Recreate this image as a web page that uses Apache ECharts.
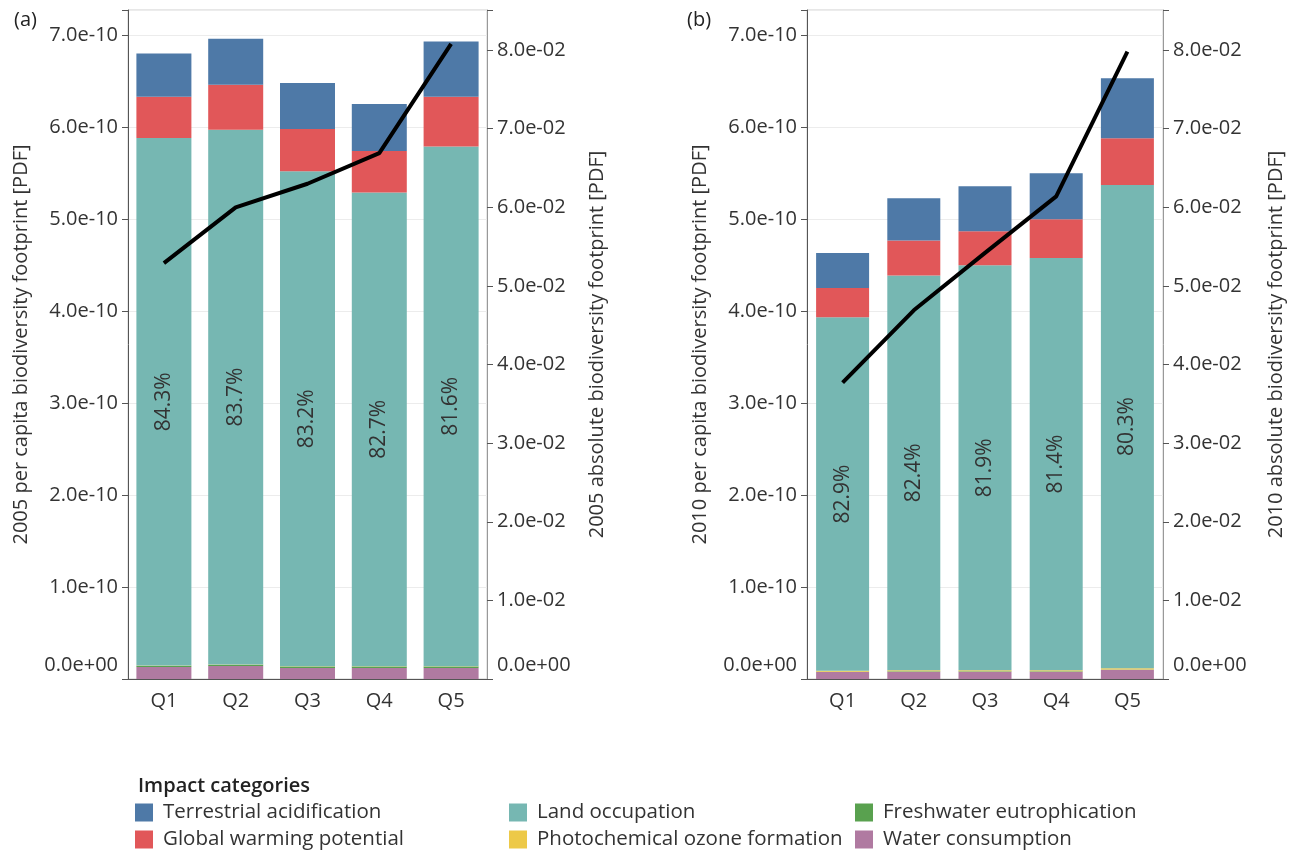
<!DOCTYPE html>
<html>
<head>
<meta charset="utf-8">
<script src="https://cdn.jsdelivr.net/npm/echarts@6/dist/echarts.min.js"></script>
<style>
html,body{margin:0;padding:0;background:#fff;}
#c{width:1293px;height:851px;}
</style>
</head>
<body>
<div id="c"></div>
<script>
const categories = ['Q1','Q2','Q3','Q4','Q5'];
const seriesNames = ['Water consumption','Freshwater eutrophication','Photochemical ozone formation','Land occupation','Global warming potential','Terrestrial acidification'];
const seriesColors = ['#b07aa1','#59a14f','#edc948','#76b7b2','#e15759','#4e79a7'];

// 2005 per capita footprint by impact category [PDF]
const water05 = [0.13e-10, 0.14e-10, 0.12e-10, 0.12e-10, 0.12e-10];
const fresh05 = [0.015e-10, 0.015e-10, 0.015e-10, 0.015e-10, 0.015e-10];
const photo05 = [0.003e-10, 0.003e-10, 0.003e-10, 0.003e-10, 0.003e-10];
const land05  = [5.73e-10, 5.81e-10, 5.38e-10, 5.15e-10, 5.65e-10];
const gwp05   = [0.45e-10, 0.49e-10, 0.46e-10, 0.45e-10, 0.54e-10];
const ta05    = [0.47e-10, 0.50e-10, 0.50e-10, 0.51e-10, 0.60e-10];
const pct05   = ['84.3%','83.7%','83.2%','82.7%','81.6%'];
const abs05   = [5.29e-2, 6.00e-2, 6.30e-2, 6.69e-2, 8.08e-2];

// 2010 per capita footprint by impact category [PDF]
const water10 = [0.075e-10, 0.08e-10, 0.08e-10, 0.08e-10, 0.10e-10];
const fresh10 = [0.003e-10, 0.003e-10, 0.003e-10, 0.003e-10, 0.003e-10];
const photo10 = [0.012e-10, 0.012e-10, 0.012e-10, 0.012e-10, 0.014e-10];
const land10  = [3.84e-10, 4.29e-10, 4.40e-10, 4.48e-10, 5.25e-10];
const gwp10   = [0.32e-10, 0.38e-10, 0.37e-10, 0.42e-10, 0.51e-10];
const ta10    = [0.38e-10, 0.46e-10, 0.49e-10, 0.50e-10, 0.65e-10];
const pct10   = ['82.9%','82.4%','81.9%','81.4%','80.3%'];
const abs10   = [3.77e-2, 4.69e-2, 5.42e-2, 6.14e-2, 7.98e-2];

const FONT = '"Open Sans", sans-serif';
const TXT = '#333';
const FS = 20;

function expFmt(step) {
  return function (v) {
    const k = v / step;
    if (Math.abs(k - Math.round(k)) > 1e-6) return '';
    let s = v.toExponential(1).replace(/e([+-])(\d)$/, 'e$10$2');
    if (Math.round(k) === 0) return '{z|' + s + '}';
    return s;
  };
}

function yLeft(gridIndex, name) {
  return {
    type: 'value', gridIndex: gridIndex, position: 'left',
    min: 0, max: 7.27e-10, interval: 1e-10,
    name: name, nameLocation: 'middle', nameGap: 97, nameRotate: 90,
    nameTextStyle: {fontFamily: FONT, fontSize: FS, color: TXT},
    axisLine: {show: true, lineStyle: {color: '#555', width: 1}},
    axisTick: {show: true, length: 6, lineStyle: {color: '#555'}},
    axisLabel: {fontFamily: FONT, fontSize: FS, color: TXT, margin: 10, formatter: expFmt(1e-10),
      rich: {z: {padding: [0, 0, 28, 0], fontFamily: FONT, fontSize: FS, color: TXT}}},
    splitLine: {show: true, lineStyle: {color: '#ececec', width: 1}}
  };
}
function yRight(gridIndex, name, gap) {
  return {
    type: 'value', gridIndex: gridIndex, position: 'right',
    min: 0, max: 8.51e-2, interval: 1e-2,
    name: name, nameLocation: 'middle', nameGap: gap, nameRotate: 90,
    nameTextStyle: {fontFamily: FONT, fontSize: FS, color: TXT},
    axisLine: {show: true, lineStyle: {color: '#999', width: 1}},
    axisTick: {show: true, length: 6, lineStyle: {color: '#555'}},
    axisLabel: {fontFamily: FONT, fontSize: FS, color: TXT, margin: 10, formatter: expFmt(1e-2),
      rich: {z: {padding: [0, 0, 28, 0], fontFamily: FONT, fontSize: FS, color: TXT}}},
    splitLine: {show: false}
  };
}
function xCat(gridIndex) {
  return {
    type: 'category', gridIndex: gridIndex, data: categories,
    axisLine: {show: true, lineStyle: {color: '#555', width: 1}},
    axisTick: {show: false},
    axisLabel: {fontFamily: FONT, fontSize: FS, color: TXT, margin: 12}
  };
}

function barSeries(panel, dataArrs, pcts, barW) {
  return dataArrs.map(function (arr, i) {
    const s = {
      name: seriesNames[i], type: 'bar', stack: 'st' + panel,
      xAxisIndex: panel, yAxisIndex: panel * 2,
      barWidth: barW, data: arr,
      itemStyle: {color: seriesColors[i]}
    };
    if (seriesNames[i] === 'Land occupation') {
      s.label = {show: true, position: 'inside', rotate: 90,
        fontFamily: FONT, fontSize: 21, color: TXT,
        formatter: function (p) { return pcts[p.dataIndex]; }};
    }
    return s;
  });
}
function lineSeries(panel, arr) {
  return {
    name: 'absolute', type: 'line', xAxisIndex: panel, yAxisIndex: panel * 2 + 1,
    data: arr, symbol: 'none', z: 10,
    lineStyle: {color: '#000', width: 4}
  };
}

const legendCols = [135, 509, 855];
const legendRows = [802, 829];
const legendLayout = [
  ['Terrestrial acidification', 0, 0],
  ['Global warming potential', 0, 1],
  ['Land occupation', 1, 0],
  ['Photochemical ozone formation', 1, 1],
  ['Freshwater eutrophication', 2, 0],
  ['Water consumption', 2, 1]
];
const legends = legendLayout.map(function (e) {
  return {
    data: [e[0]], left: legendCols[e[1]], top: legendRows[e[2]],
    orient: 'horizontal', padding: 0, icon: 'rect',
    itemWidth: 18, itemHeight: 18,
    textStyle: {fontFamily: FONT, fontSize: 20.5, color: TXT, padding: [0, 0, 0, 5]}
  };
});

const option = {
  animation: false,
  backgroundColor: '#fff',
  title: [
    {text: '(a)', left: 9, top: 5, textStyle: {fontFamily: FONT, fontSize: FS, fontWeight: 'normal', color: '#222'}},
    {text: '(b)', left: 682, top: 5, textStyle: {fontFamily: FONT, fontSize: FS, fontWeight: 'normal', color: '#222'}},
    {text: 'Impact categories', left: 133, top: 771, textStyle: {fontFamily: FONT, fontSize: 20, fontWeight: 600, color: '#222'}}
  ],
  legend: legends,
  grid: [
    {left: 128, top: 10, width: 359, height: 669, show: true, borderColor: '#cfcfcf', borderWidth: 1},
    {left: 807, top: 10, width: 356, height: 669, show: true, borderColor: '#cfcfcf', borderWidth: 1}
  ],
  xAxis: [xCat(0), xCat(1)],
  yAxis: [
    yLeft(0, '2005 per capita biodiversity footprint [PDF]'),
    yRight(0, '2005 absolute biodiversity footprint [PDF]', 100),
    yLeft(1, '2010 per capita biodiversity footprint [PDF]'),
    yRight(1, '2010 absolute biodiversity footprint [PDF]', 103)
  ],
  series: [].concat(
    barSeries(0, [water05, fresh05, photo05, land05, gwp05, ta05], pct05, 55),
    [lineSeries(0, abs05)],
    barSeries(1, [water10, fresh10, photo10, land10, gwp10, ta10], pct10, 53),
    [lineSeries(1, abs10)]
  )
};

const chart = echarts.init(document.getElementById('c'), null, {renderer: 'canvas'});
chart.setOption(option);
</script>
</body>
</html>
